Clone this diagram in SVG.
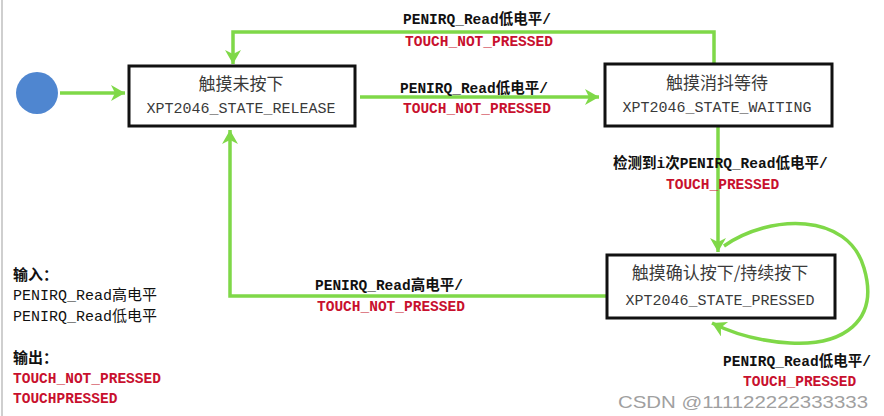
<svg xmlns="http://www.w3.org/2000/svg" width="884" height="416" viewBox="0 0 884 416">
<style>
.box{fill:#fff;stroke:#111;stroke-width:3}
.bt{font-family:"Liberation Mono","Noto Sans CJK SC",monospace;font-size:15px;fill:#3a3a3a;text-anchor:middle}
.bc{font-family:"Noto Sans CJK SC","Liberation Mono",sans-serif;font-size:17px;fill:#3a3a3a;text-anchor:middle}
.lb{font-family:"Liberation Mono","Noto Sans CJK SC",monospace;font-size:14.5px;font-weight:bold;fill:#111}
.rd{font-family:"Liberation Mono","Noto Sans CJK SC",monospace;font-size:14.5px;font-weight:bold;fill:#c8102e}
.lg{font-family:"Liberation Mono","Noto Sans CJK SC",monospace;font-size:15px;fill:#111}
.cn{fill:none;stroke:#7fd848;stroke-width:3.5}
</style>
<defs>
<marker id="ah" markerUnits="userSpaceOnUse" markerWidth="20" markerHeight="20" refX="14" refY="8" orient="auto">
<path d="M0,0 L14,8 L0,16 L4,8 Z" fill="#7fd848"/>
</marker>
</defs>
<rect width="884" height="416" fill="#fff"/>
<line x1="2" y1="0" x2="2" y2="416" stroke="#cfcfcf" stroke-width="2"/>

<g id="connectors">
<line class="cn" x1="60" y1="93" x2="125" y2="93" marker-end="url(#ah)"/>
<polyline class="cn" points="714,64 714,32 233,32 233,64" marker-end="url(#ah)"/>
<line class="cn" x1="360" y1="97" x2="599" y2="97" marker-end="url(#ah)"/>
<line class="cn" x1="718" y1="126" x2="718" y2="252" marker-end="url(#ah)"/>
<polyline class="cn" points="606,296 230,296 230,130" marker-end="url(#ah)"/>
<path class="cn" d="M724,246 C770,214 848,212 864,268 C880,322 842,346 790,343 C755,341 730,332 712,323" marker-end="url(#ah)"/>
</g>

<g id="start">
<circle cx="37" cy="93" r="21" fill="#4f86d0"/>
</g>

<g id="release">
<rect class="box" x="129" y="66" width="226" height="60"/>
<text class="bc" x="241" y="90">触摸未按下</text>
<text class="bt" x="241" y="113">XPT2046_STATE_RELEASE</text>
</g>

<g id="waiting">
<rect class="box" x="605" y="64" width="227" height="62"/>
<text class="bc" x="717" y="89">触摸消抖等待</text>
<text class="bt" x="717" y="112">XPT2046_STATE_WAITING</text>
</g>

<g id="pressed">
<rect class="box" x="607" y="255" width="228" height="63"/>
<text class="bc" x="720" y="279">触摸确认按下/持续按下</text>
<text class="bt" x="720" y="305">XPT2046_STATE_PRESSED</text>
</g>

<g id="labels">
<text class="lb" x="403" y="24">PENIRQ_Read低电平/</text>
<text class="rd" x="405" y="46">TOUCH_NOT_PRESSED</text>
<text class="lb" x="400" y="93">PENIRQ_Read低电平/</text>
<text class="rd" x="403" y="113">TOUCH_NOT_PRESSED</text>
<text class="lb" x="613" y="168">检测到i次PENIRQ_Read低电平/</text>
<text class="rd" x="666" y="189">TOUCH_PRESSED</text>
<text class="lb" x="315" y="290">PENIRQ_Read高电平/</text>
<text class="rd" x="317" y="311">TOUCH_NOT_PRESSED</text>
<text class="lb" x="723" y="366">PENIRQ_Read低电平/</text>
<text class="rd" x="743" y="386">TOUCH_PRESSED</text>
</g>

<g id="legend">
<text class="lg" x="13" y="280" font-weight="bold">输入：</text>
<text class="lg" x="13" y="300">PENIRQ_Read高电平</text>
<text class="lg" x="13" y="321">PENIRQ_Read低电平</text>
<text class="lg" x="13" y="363" font-weight="bold">输出：</text>
<text class="rd" x="13" y="383">TOUCH_NOT_PRESSED</text>
<text class="rd" x="13" y="403">TOUCHPRESSED</text>
</g>

<text x="618" y="408" font-family="Liberation Sans, sans-serif" font-size="17" fill="#a0a0a0" textLength="250" lengthAdjust="spacingAndGlyphs">CSDN @111122222333333</text>
</svg>
